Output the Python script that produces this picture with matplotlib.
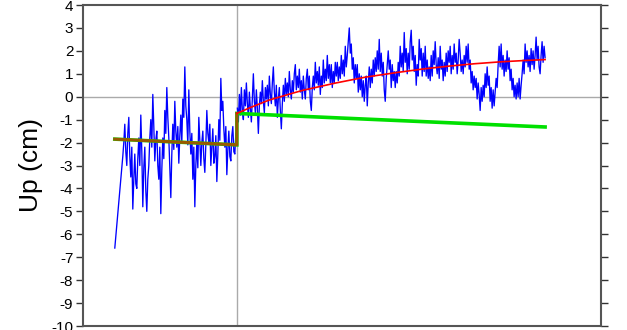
import numpy as np
import matplotlib
matplotlib.use("Agg")
import matplotlib.pyplot as plt

plt.rcParams['font.family'] = ['Liberation Sans', 'DejaVu Sans']

# ---- data (decimal years, cm) ----
event_t = 2011.19
t_start, t_end = 2010.0, 2014.195

pre_values = [
    -6.6, -6.1, -5.6, -5.1, -4.6, -4.1, -3.6, -3.1, -2.6, -2.0,
    -1.2, -2.4, -3.0, -1.6, -0.9, -2.6, -3.5, -2.2, -4.9, -3.6,
    -2.5, -3.8, -4.0, -2.7, -1.8, -3.0, -0.8, -2.4, -4.8, -3.1,
    -2.2, -4.1, -5.0, -3.6, -3.0, -1.8, -1.0, -2.2, 0.1, -1.3,
    -2.8, -1.9, -1.5, -3.0, -3.6, -2.2, -5.1, -3.2, -1.8, -2.7,
    -0.6, -1.6, 0.4, -0.9, -1.8, -3.1, -4.4, -2.5, -1.2, -2.3,
    -0.2, -1.5, -2.2, -1.3, -2.9, -1.7, -0.8, -2.0, -0.1, -0.9,
    1.3, -0.4, -1.0, -2.1, 0.3, -1.5, -2.5, -1.6, -3.6, -2.2,
    -4.8, -3.0, -2.0, -3.1, -0.9, -1.9, -3.0, -2.0, -1.5, -2.7,
    -3.3, -2.1, -0.6, -1.6, -2.0, -1.2, -3.0, -2.2, -1.4, -2.9,
    -2.6, -1.7, -3.7, -2.5, -1.0, -1.9, 0.8, -0.6, -0.2, -1.4,
    -2.2, -1.3, -3.4, -2.3, -1.5, -2.6, -2.8, -1.7, -1.3, -2.4,
    -2.5, -1.6]

post_values = [
    -0.5, -1.1, 0.1, -0.8, 0.4, -0.6, -1.0, 0.3, -0.4, 0.6,
    -0.3, -0.9, 0.2, -0.5, -1.1, 0.0, 1.0, -0.2, -0.7, 0.3,
    -0.5, -1.6, -0.4, 0.2, -0.3, 0.7, -0.2, -0.7, 0.4, -0.1,
    0.5, -0.4, 0.9, 0.1, -0.3, 0.6, 1.3, 0.2, -0.4, 0.5,
    -0.9, -0.1, 0.4, -0.6, -1.4, -0.3, 0.5, -0.2, 0.8, 0.1,
    0.6, 0.0, 1.1, 0.3, -0.1, 0.7, 0.2, 1.0, 1.4, 0.3,
    0.9, 0.4, 1.2, 0.2, 0.7, -0.1, 0.9, 0.3, -0.1, 0.8,
    1.2, 0.3, 0.9, -0.2, -0.6, 0.4, 0.9, 0.3, 1.5, 0.6,
    1.1, 0.5, 1.3, 0.1, 0.9, 0.4, 1.6, 0.6, 1.2, 0.7,
    1.8, 0.8, 1.4, 0.6, 1.4, 0.4, 1.1, 0.6, 1.5, 0.9,
    1.5, 0.7, 1.3, 0.8, 1.8, 1.0, 1.6, 0.9, 2.2, 1.3,
    1.8, 2.4, 3.0, 1.9, 2.3, 1.2, 1.7, 0.6, 1.4, 0.8,
    1.4, 0.2, 1.0, 0.3, 0.9, 0.0, 0.7, -0.2, 0.5, 0.9,
    -0.4, 0.6, 1.3, 0.4, 1.2, 0.6, 1.6, 0.9, 1.7, 1.1,
    2.0, 1.2, 2.5, 1.1, 1.9, 0.9, 1.5, 0.3, -0.2, 0.8,
    1.4, 2.0, 1.2, 1.6, 0.4, 1.4, 0.7, 1.1, 0.4, 1.1,
    0.6, 1.5, 0.9, 2.2, 1.3, 1.9, 1.1, 2.8, 1.5, 2.1,
    1.0, 1.9, 1.2, 2.4, 2.9, 1.6, 2.2, 1.1, 1.8, 0.5,
    1.4, 0.9, 2.5, 1.6, 2.1, 0.9, 1.9, 1.1, 2.2, 0.9,
    1.6, 0.8, 1.3, 0.7, 1.8, 0.9, 2.0, 1.4, 2.4, 1.4,
    1.0, 1.7, 0.8, 2.2, 1.2, 1.6, 0.7, 1.5, 0.9, 1.9,
    1.1, 2.0, 1.5, 2.2, 1.0, 1.8, 1.2, 2.3, 1.5, 1.9,
    1.0, 1.6, 2.5, 1.9, 1.1, 1.6, 1.0, 1.8, 1.3, 2.2,
    1.5, 2.3, 1.2, 1.6, 0.6, 1.1, 0.3, 0.9, 0.4, 0.8,
    -0.1, 0.6, 0.1, -0.6, 0.4, -0.2, 0.5, 0.0, 1.0, 0.4,
    1.3, 0.5, 0.9, -0.2, 0.4, -0.5, 0.3, -0.4, 0.2, 0.8,
    0.4, 1.4, 2.2, 1.3, 2.3, 1.2, 1.8, 0.9, 1.6, 1.1,
    2.0, 1.2, 1.7, 0.7, 1.2, 0.3, 0.8, 0.0, 0.5, -0.1,
    0.6, 0.0, 0.8, -0.1, 0.5, 1.0, 1.6, 1.0, 2.3, 1.5,
    2.0, 1.3, 1.8, 1.1, 2.1, 1.4, 2.0, 1.2, 1.8, 2.6,
    1.6, 2.2, 1.3, 1.0, 1.8, 2.4, 1.5, 2.2, 1.7]

# pre-event linear fit (start, end)
pre_fit_t = [t_start, event_t]
pre_fit_v = [-1.85, -2.1]
# coseismic offset reaches this level
post_level = -0.73
# linear trend continuation after event (green)
green_t = [event_t, t_end]
green_v = [-0.73, -1.32]
# post-seismic model (red)
red_t = [2011.19, 2011.317, 2011.502, 2011.707, 2011.834, 2012.156, 2012.439,
         2012.741, 2013.024, 2013.268, 2013.512, 2013.756, 2014.0, 2014.195]
red_v = [-0.73, -0.48, -0.15, 0.12, 0.28, 0.60, 0.85,
         1.05, 1.22, 1.34, 1.44, 1.52, 1.58, 1.62]

yticks = list(range(-10, 5))

# ---- plot ----
fig = plt.figure(figsize=(6.27, 3.30), dpi=100)
ax = fig.add_axes([83/627, 1-326/330, (601-83)/627, (326-5)/330])

ax.axhline(0, color='#aaaaaa', lw=1.0, zorder=1)
ax.axvline(event_t, color='#aaaaaa', lw=1.0, zorder=1)

pre_t = np.linspace(t_start, event_t - 0.01, len(pre_values))
post_t = np.linspace(event_t + 0.005, t_end, len(post_values))
ax.plot(pre_t, pre_values, color='#0000ff', lw=0.95, zorder=2)
ax.plot(post_t, post_values, color='#0000ff', lw=0.95, zorder=2)

# green (trend) model
g_t = pre_fit_t + [event_t] + green_t[1:]
g_v = pre_fit_v + [post_level] + green_v[1:]
ax.plot(g_t, g_v, color='#00e000', lw=2.6, zorder=3, solid_joinstyle='miter')
# red (postseismic) model, overlapping green before the event
ax.plot(pre_fit_t + [event_t, event_t], pre_fit_v + [post_level, post_level],
        color='#ff0000', lw=2.2, alpha=0.6, zorder=4)
ax.plot(red_t, red_v, color='#ff0000', lw=1.2, zorder=4)

ax.set_xlim(2009.69, 2014.74)
ax.set_ylim(-10, 4)
ax.set_yticks(yticks)
ax.set_yticklabels([str(v) for v in yticks])
ax.set_xticks([])
ax.tick_params(axis='y', direction='out', length=5, width=1, colors='#333333',
               labelsize=11, right=True, pad=2)
ax.tick_params(axis='y', labelcolor='black')
for s in ax.spines.values():
    s.set_color('#555555')
    s.set_linewidth(1.5)

ax.set_ylabel('Up (cm)', fontsize=19, labelpad=6)

fig.savefig('out.png', dpi=100)
